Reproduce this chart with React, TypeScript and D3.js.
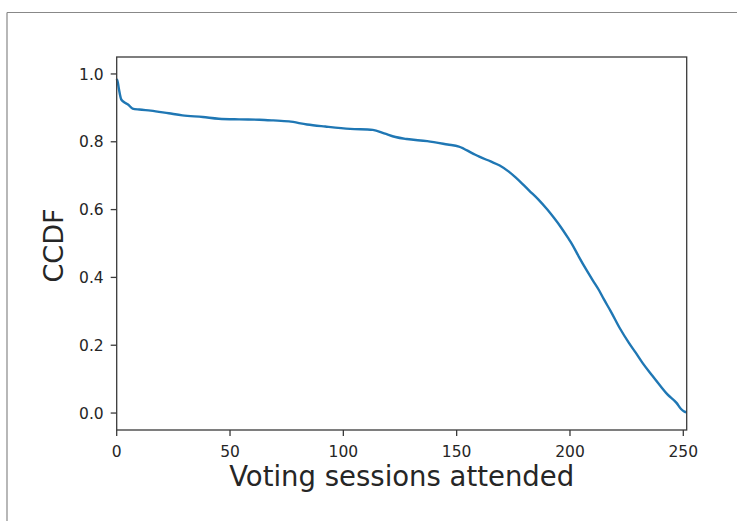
import React from "react";
import * as d3 from "d3";

const sessions = [0, 0.5, 1, 2, 3, 5, 7, 10, 15, 23, 29, 38, 45, 54, 63, 69, 76, 84, 92, 103, 113, 118, 123, 128, 137, 146, 151, 157, 160, 165, 169, 173, 176, 179, 182, 186, 190, 193, 196, 199, 201, 204, 207, 210, 213, 215, 218, 222, 226, 229, 232, 236, 240, 243, 247, 249, 250.5, 251.5];
const ccdf = [0.985, 0.975, 0.955, 0.925, 0.918, 0.91, 0.898, 0.895, 0.892, 0.884, 0.878, 0.873, 0.868, 0.866, 0.865, 0.863, 0.86, 0.851, 0.845, 0.838, 0.835, 0.825, 0.814, 0.808, 0.802, 0.792, 0.786, 0.766, 0.756, 0.742, 0.73, 0.712, 0.695, 0.676, 0.656, 0.63, 0.6, 0.575, 0.548, 0.518, 0.497, 0.46, 0.425, 0.392, 0.36, 0.335, 0.3, 0.25, 0.207, 0.178, 0.148, 0.113, 0.079, 0.055, 0.03, 0.012, 0.004, 0.002];
const xTicks = [0, 50, 100, 150, 200, 250];
const yTicks = [0.0, 0.2, 0.4, 0.6, 0.8, 1.0];
const xLabel = "Voting sessions attended";
const yLabel = "CCDF";

export default function App() {
  const W = 737, H = 521;
  const left = 116.7, right = 686.7, top = 57, bottom = 430;
  const x = d3.scaleLinear().domain([0, 251.5]).range([left, right]);
  const y = d3.scaleLinear().domain([-0.05, 1.05]).range([bottom, top]);
  const pts = sessions.map((s, i) => [s, ccdf[i]] as [number, number]);
  const line = d3.line<[number, number]>().x(d => x(d[0])).y(d => y(d[1])).curve(d3.curveMonotoneX);
  const font = "'DejaVu Sans', sans-serif";
  const axisColor = "#3a3a3a";
  return (
    <svg width={W} height={H} style={{ position: "absolute", left: 0, top: 0, background: "#fff" }}>
      <rect x={0} y={0} width={W} height={H} fill="#fff" />
      <line x1={7} y1={12.5} x2={W} y2={12.5} stroke="#888" strokeWidth={1.2} />
      <line x1={7} y1={12.5} x2={7} y2={H} stroke="#888" strokeWidth={1.2} />
      <path d={line(pts) || ""} fill="none" stroke="#1f77b4" strokeWidth={2.4} strokeLinejoin="round" />
      <rect x={left} y={top} width={right - left} height={bottom - top} fill="none" stroke={axisColor} strokeWidth={1.3} />
      {xTicks.map(t => (
        <g key={"x" + t}>
          <line x1={x(t)} x2={x(t)} y1={bottom} y2={bottom + 6} stroke={axisColor} strokeWidth={1.3} />
          <text x={x(t)} y={bottom + 27} textAnchor="middle" fontFamily={font} fontSize={15.5} fill="#262626">{t}</text>
        </g>
      ))}
      {yTicks.map(t => (
        <g key={"y" + t}>
          <line x1={left - 6} x2={left} y1={y(t)} y2={y(t)} stroke={axisColor} strokeWidth={1.3} />
          <text x={left - 13} y={y(t)} dy="0.36em" textAnchor="end" fontFamily={font} fontSize={15.5} fill="#262626">{t.toFixed(1)}</text>
        </g>
      ))}
      <text x={(left + right) / 2} y={486} textAnchor="middle" fontFamily={font} fontSize={27.5} fill="#262626">{xLabel}</text>
      <text transform={`translate(63, ${(top + bottom) / 2 + 2}) rotate(-90)`} textAnchor="middle" fontFamily={font} fontSize={27} fill="#262626">{yLabel}</text>
    </svg>
  );
}
